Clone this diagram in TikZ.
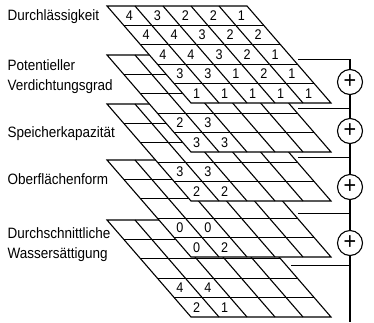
\documentclass[tikz,border=0pt]{standalone}
\usepackage{fontspec}
\setmainfont[FakeStretch=0.9]{Liberation Sans}
\usetikzlibrary{calc}

\begin{document}
\begin{tikzpicture}[x=1pt,y=-1pt,line width=1.1pt,
    cells/.style={shift={(107,#1)},x={(28pt,0pt)},y={(16.8pt,-19.4pt)}},
    lab/.style={anchor=base west,align=left,inner sep=0pt,font=\fontsize{15}{20}\selectfont},
    num/.style={inner sep=0pt,font=\fontsize{14}{14}\selectfont},
    plus/.style={draw,circle,minimum size=25pt,inner sep=0pt,font=\fontsize{24}{24}\selectfont}]
    \useasboundingbox (0,0) rectangle (374,322);
    %\draw[help lines] (0,0) grid[step=20] (374,322);
    % layers, lowest first so the upper ones cover it
    \foreach \lay/\top in {5/220,4/160,3/104,2/55,1/6} {
        \begin{scope}[cells=\top]
            \draw[fill=white] (0,0) -- (5,0) -- (5,5) -- (0,5) -- cycle;
            \foreach \i in {1,...,4} {
                \draw (\i,0) -- (\i,5);
                \draw (0,\i) -- (5,\i);
            }
            \coordinate (L\lay-ne) at (5,0);
            \coordinate (L\lay-se) at (5,5);
        \end{scope}
    }
    % values
    \begin{scope}[cells=6]
        \foreach \row [count=\r from 0] in {{4,3,2,2,1},{4,4,3,2,2},{4,4,3,2,1},{3,3,1,2,1},{1,1,1,1,1}}
            \foreach \n [count=\c from 0] in \row
                \node[num] (v1-\r-\c) at (\c+0.5,\r+0.5) {\n};
    \end{scope}
    \foreach \lay/\top/\a/\b/\c/\d in {2/55/2/3/3/3,3/104/3/3/2/2,4/160/0/0/0/2,5/220/4/4/2/1} {
        \begin{scope}[cells=\top]
            \node[num] (v\lay-3-0) at (0.5,3.5) {\a};
            \node[num] (v\lay-3-1) at (1.5,3.5) {\b};
            \node[num] (v\lay-4-0) at (0.5,4.5) {\c};
            \node[num] (v\lay-4-1) at (1.5,4.5) {\d};
        \end{scope}
    }
    % names (base = last line)
    \node[lab] (durch) at (7,20) {Durchlässigkeit};
    \node[lab] (verd) at (7,90) {Potentieller\\Verdichtungsgrad};
    \node[lab] (speich) at (7,137.5) {Speicherkapazität};
    \node[lab] (ober) at (7,184.5) {Oberflächenform};
    \node[lab] (wasser) at (7,258) {Durchschnittliche\\Wassersättigung};
    % summing line
    \coordinate (bus) at (350,0);
    \coordinate (c1) at ($(L1-ne)!0.55!(L1-se)+(5,0)$);
    \coordinate (c2) at ($(L2-ne)!0.55!(L2-se)+(5,0)$);
    \coordinate (c3) at ($(L3-ne)!0.55!(L3-se)+(5,0)$);
    \coordinate (c4) at ($(L4-ne)!0.55!(L4-se)+(5,0)$);
    \coordinate (c5) at ($(L5-ne)!0.47!(L5-se)+(5,0)$);
    \foreach \k in {1,...,5}
        \coordinate (j\k) at (c\k -| bus);
    \coordinate (out) at (350,322);
    \node[plus] (p1) at (350,82) {+};
    \node[plus] (p2) at (350,131) {+};
    \node[plus] (p3) at (350,187) {+};
    \node[plus] (p4) at (350,243) {+};
    \draw (c1) -- (j1) -- (p1);
    \draw (c2) -- (j2);
    \draw (p1) -- (j2) -- (p2);
    \draw (c3) -- (j3);
    \draw (p2) -- (j3) -- (p3);
    \draw (c4) -- (j4);
    \draw (p3) -- (j4) -- (p4);
    \draw (c5) -- (j5);
    \draw (p4) -- (j5) -- (out);
\end{tikzpicture}
\end{document}
